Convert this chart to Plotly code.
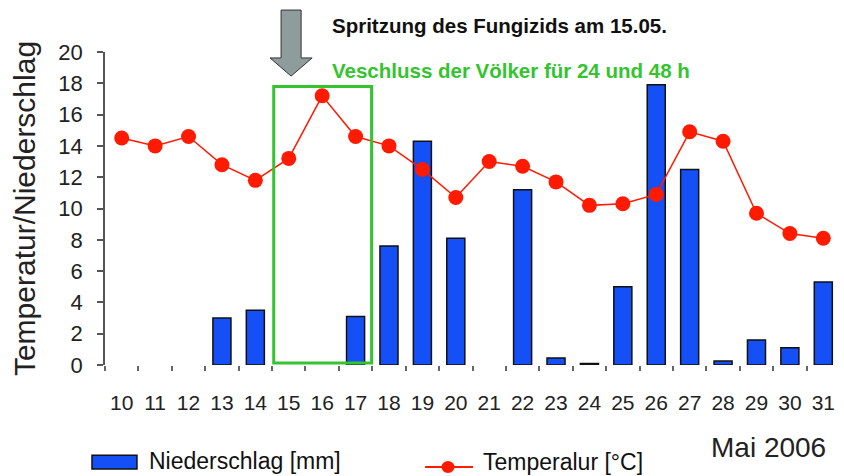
import plotly.graph_objects as go

days = ["10", "11", "12", "13", "14", "15", "16", "17", "18", "19", "20",
        "21", "22", "23", "24", "25", "26", "27", "28", "29", "30", "31"]
niederschlag = [0, 0, 0, 3.0, 3.5, 0, 0, 3.1, 7.6, 14.3, 8.1,
                0, 11.2, 0.45, 0.1, 5.0, 17.9, 12.5, 0.25, 1.6, 1.1, 5.3]
temperatur = [14.5, 14.0, 14.6, 12.8, 11.8, 13.2, 17.2, 14.6, 14.0, 12.5, 10.7,
              13.0, 12.7, 11.7, 10.2, 10.3, 10.9, 14.9, 14.3, 9.7, 8.4, 8.1]
yticks = [0, 2, 4, 6, 8, 10, 12, 14, 16, 18, 20]

FONT = "Liberation Sans, Arial, sans-serif"
BLUE = "#1450f5"
RED = "#ff1a00"
GREEN = "#33c42f"

fig = go.Figure()
fig.add_trace(go.Bar(x=days, y=niederschlag, name="Niederschlag [mm]",
                     marker=dict(color=BLUE,
                                 line=dict(color="#111111",
                                           width=[1.5 if v > 0 else 0 for v in niederschlag])),
                     width=0.54, showlegend=False))
fig.add_trace(go.Scatter(x=days, y=temperatur, name="Temperalur [°C]",
                         mode="lines+markers",
                         line=dict(color=RED, width=1.5),
                         marker=dict(color=RED, size=15, symbol="circle"),
                         showlegend=False))

# green box (closure of colonies 15.-17.05.)
fig.add_shape(type="rect", xref="x", yref="y", x0=4.55, x1=7.48, y0=0.12, y1=17.8,
              line=dict(color=GREEN, width=3), fillcolor="rgba(0,0,0,0)", layer="above")

# grey arrow pointing at 15.05.
cx = 5.07
sw, hw = 0.30, 0.63
ytop, ybase, ytip = 1.134, 0.981, 0.923
path = (f"M {cx-sw},{ytop} L {cx+sw},{ytop} L {cx+sw},{ybase} L {cx+hw},{ybase} "
        f"L {cx},{ytip} L {cx-hw},{ybase} L {cx-sw},{ybase} Z")
fig.add_shape(type="path", xref="x", yref="paper", path=path,
              fillcolor="#8f9c9c", line=dict(color="#333333", width=1))

fig.add_annotation(xref="paper", yref="paper", x=0.306, y=1.086, xanchor="left", yanchor="middle",
                   text="<b>Spritzung des Fungizids am 15.05.</b>", showarrow=False,
                   font=dict(family=FONT, size=20.5, color="#111111"))
fig.add_annotation(xref="paper", yref="paper", x=0.306, y=0.942, xanchor="left", yanchor="middle",
                   text="<b>Veschluss der Völker für 24 und 48 h</b>", showarrow=False,
                   font=dict(family=FONT, size=20.5, color=GREEN))
fig.add_annotation(xref="paper", yref="paper", x=0.903, y=-0.262, xanchor="center", yanchor="middle",
                   text="Mai 2006", showarrow=False,
                   font=dict(family=FONT, size=28, color="#222222"))

# legend drawn below the plot
fig.add_shape(type="rect", xref="paper", yref="paper", x0=-0.0177, x1=0.0435, y0=-0.332, y1=-0.288,
              fillcolor=BLUE, line=dict(color="#111111", width=1.5))
fig.add_annotation(xref="paper", yref="paper", x=0.0571, y=-0.307, xanchor="left", yanchor="middle",
                   text="Niederschlag [mm]", showarrow=False,
                   font=dict(family=FONT, size=23, color="#111111"))
fig.add_shape(type="line", xref="paper", yref="paper", x0=0.4354, x1=0.5007, y0=-0.326, y1=-0.326,
              line=dict(color=RED, width=2))
fig.add_shape(type="circle", xref="paper", yref="paper", x0=0.4578, x1=0.4755, y0=-0.345, y1=-0.307,
              fillcolor=RED, line=dict(color=RED, width=0))
fig.add_annotation(xref="paper", yref="paper", x=0.5116, y=-0.310, xanchor="left", yanchor="middle",
                   text="Temperalur [°C]", showarrow=False,
                   font=dict(family=FONT, size=23, color="#111111"))

# page body adds an 8px margin, so the figure is 8px smaller and shifted
fig.update_layout(
    width=836, height=468,
    margin=dict(l=97, r=4, t=44, b=111),
    paper_bgcolor="white", plot_bgcolor="white",
    font=dict(family=FONT, size=21, color="#222222"),
)
fig.update_xaxes(type="category", range=[-0.5, 21.5], showgrid=False, zeroline=False,
                 showline=False, ticks="outside", tickson="boundaries", ticklen=5,
                 tickcolor="#666666", tickwidth=1.5, ticklabelstandoff=23,
                 tickfont=dict(size=21, color="#222222"))
fig.update_yaxes(range=[0, 20], tickvals=yticks, showgrid=False, zeroline=False,
                 showline=True, linecolor="#555555", linewidth=1.5,
                 ticks="outside", ticklen=6, tickcolor="#555555", tickwidth=1.5,
                 ticklabelstandoff=10,
                 tickfont=dict(size=22, color="#222222"),
                 title=dict(text="Temperatur/Niederschlag", standoff=18,
                            font=dict(size=30, color="#222222")))

fig.write_html("out.html")
